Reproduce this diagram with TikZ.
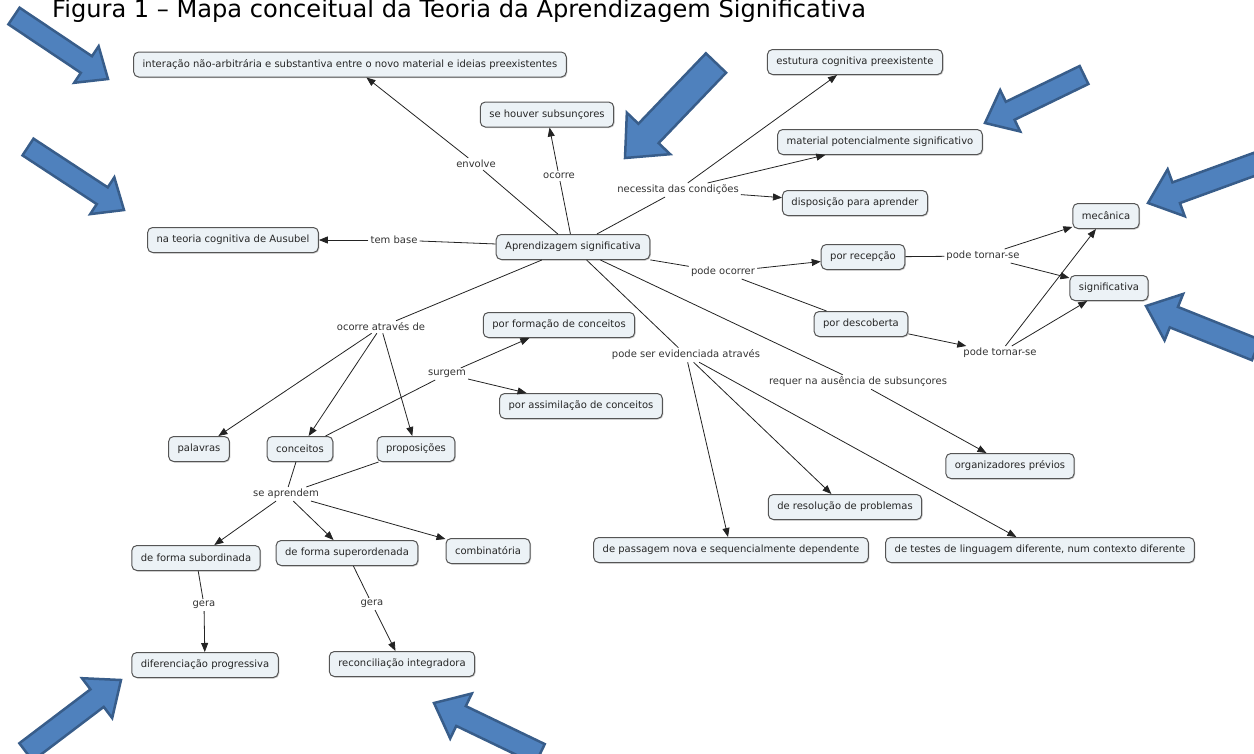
\documentclass[tikz,border=0pt]{standalone}
\usepackage{fontspec}
\setmainfont{DejaVu Sans}
\usetikzlibrary{arrows.meta,calc,shadows}

\definecolor{boxfill}{RGB}{236,242,246}
\definecolor{boxline}{RGB}{85,85,85}
\definecolor{linkgray}{RGB}{35,35,35}
\definecolor{markfill}{RGB}{79,129,189}
\definecolor{markline}{RGB}{56,93,138}

\tikzset{
  concept/.style={draw=boxline, fill=boxfill, rounded corners=5pt, line width=1pt,
    minimum height=25pt, inner xsep=9pt, inner ysep=2pt,
    drop shadow={shadow xshift=1pt, shadow yshift=-1pt, fill=black, opacity=0.2},
    font=\fontsize{10}{12}\selectfont, text=black!85},
  phrase/.style={inner sep=2pt, font=\fontsize{10}{12}\selectfont, text=black!80},
  link/.style={draw=linkgray, line width=0.8pt},
  linkto/.style={link, -{Triangle[length=9pt,width=7pt]}},
  blockarrow/.style={fill=markfill, draw=markline, line width=2.5pt, line join=miter},
}

% thick highlight arrow: tail, tip, shaft half width, head half width, head length
\newcommand\fatarrow[5]{%
  \coordinate (fa-neck) at ($(#2)!#5!(#1)$);
  \draw[blockarrow] ($(#1)!#3!90:(#2)$) -- ($(fa-neck)!#3!-90:(#1)$)
    -- ($(fa-neck)!#4!-90:(#1)$) -- (#2) -- ($(fa-neck)!#4!90:(#1)$)
    -- ($(fa-neck)!#3!90:(#1)$) -- ($(#1)!#3!-90:(#2)$) -- cycle;
}

\begin{document}
\begin{tikzpicture}[x=1pt, y=-1pt]
\useasboundingbox (0,0) rectangle (1254,753);
\clip (0,0) rectangle (1254,753);

% caption
\node[anchor=base west, inner sep=0pt, font=\fontsize{24.1}{28}\selectfont] (title) at (52,17)
  {Figura 1 – Mapa conceitual da Teoria da Aprendizagem Significativa};

% concepts
\node[concept] (as) at (573,247) {Aprendizagem significativa};
\node[concept] (inter) at (350,64.5) {interação não-arbitrária e substantiva entre o novo material e ideias preexistentes};
\node[concept] (subs) at (547,114.5) {se houver subsunçores};
\node[concept] (estrut) at (855,62) {estutura cognitiva preexistente};
\node[concept] (material) at (880,142) {material potencialmente significativo};
\node[concept] (dispos) at (855,203) {disposição para aprender};
\node[concept] (teoria) at (233,240) {na teoria cognitiva de Ausubel};
\node[concept] (recepcao) at (863,257) {por recepção};
\node[concept] (mecanica) at (1106,216) {mecânica};
\node[concept] (signif) at (1109,288) {significativa};
\node[concept] (descoberta) at (861,324) {por descoberta};
\node[concept] (formacao) at (559,325) {por formação de conceitos};
\node[concept] (assimilacao) at (581,406) {por assimilação de conceitos};
\node[concept] (palavras) at (199,449) {palavras};
\node[concept] (conceitos) at (300,449) {conceitos};
\node[concept] (proposicoes) at (416,449) {proposições};
\node[concept] (subord) at (196,558) {de forma subordinada};
\node[concept] (superord) at (347,553) {de forma superordenada};
\node[concept] (combin) at (488,551) {combinatória};
\node[concept] (difer) at (205,665) {diferenciação progressiva};
\node[concept] (reconc) at (402,664) {reconciliação integradora};
\node[concept] (organiz) at (1010,466) {organizadores prévios};
\node[concept] (resolucao) at (845,507) {de resolução de problemas};
\node[concept] (passagem) at (731,550) {de passagem nova e sequencialmente dependente};
\node[concept] (testes) at (1040,550) {de testes de linguagem diferente, num contexto diferente};

% linking phrases
\node[phrase] (envolve) at (476,164) {envolve};
\node[phrase] (ocorre) at (559,176) {ocorre};
\node[phrase] (necessita) at (678,190) {necessita das condições};
\node[phrase] (tembase) at (394,240) {tem base};
\node[phrase] (podeocorrer) at (723,272) {pode ocorrer};
\node[phrase] (tornarA) at (983,256) {pode tornar-se};
\node[phrase] (tornarB) at (1000,353) {pode tornar-se};
\node[phrase] (atraves) at (381,327) {ocorre através de};
\node[phrase] (surgem) at (447,374) {surgem};
\node[phrase] (evidenciada) at (686,355) {pode ser evidenciada através};
\node[phrase] (requer) at (858,382) {requer na ausência de subsunçores};
\node[phrase] (aprendem) at (286,494) {se aprendem};
\node[phrase] (geraA) at (204,605) {gera};
\node[phrase] (geraB) at (372,604) {gera};

% connections
\draw[link] (as) -- (envolve);
\draw[linkto] (envolve) -- (inter);
\draw[link] (as) -- (ocorre);
\draw[linkto] (ocorre) -- (subs);
\draw[link] (as) -- (necessita);
\draw[linkto] (necessita) -- (estrut);
\draw[linkto] (necessita) -- (material);
\draw[linkto] (necessita) -- (dispos);
\draw[link] (as) -- (tembase);
\draw[linkto] (tembase) -- (teoria);
\draw[link] (as) -- (podeocorrer);
\draw[linkto] (podeocorrer) -- (recepcao);
\draw[link] (podeocorrer) -- (descoberta);
\draw[link] (recepcao) -- (tornarA);
\draw[linkto] (tornarA) -- (mecanica);
\draw[linkto] (tornarA) -- (signif);
\draw[linkto] (descoberta) -- (tornarB);
\draw[linkto] (tornarB) -- (mecanica);
\draw[linkto] (tornarB) -- (signif);
\draw[link] (as) -- (atraves);
\draw[linkto] (atraves) -- (palavras);
\draw[linkto] (atraves) -- (conceitos);
\draw[linkto] (atraves) -- (proposicoes);
\draw[link] (conceitos) -- (surgem);
\draw[linkto] (surgem) -- (formacao);
\draw[linkto] (surgem) -- (assimilacao);
\draw[link] (as) -- (evidenciada);
\draw[linkto] (evidenciada) -- (passagem);
\draw[linkto] (evidenciada) -- (resolucao);
\draw[linkto] (evidenciada) -- (testes);
\draw[link] (as) -- (requer);
\draw[linkto] (requer) -- (organiz);
\draw[link] (conceitos) -- (aprendem);
\draw[link] (proposicoes) -- (aprendem);
\draw[linkto] (aprendem) -- (subord);
\draw[linkto] (aprendem) -- (superord);
\draw[linkto] (aprendem) -- (combin);
\draw[link] (subord) -- (geraA);
\draw[linkto] (geraA) -- (difer);
\draw[link] (superord) -- (geraB);
\draw[linkto] (geraB) -- (reconc);

% highlight arrows
\coordinate (hA1) at (14,16);    \coordinate (hA2) at (108,79);
\coordinate (hB1) at (28,147);   \coordinate (hB2) at (124,210);
\coordinate (hC1) at (716,63);   \coordinate (hC2) at (625,158);
\coordinate (hD1) at (1084,75);  \coordinate (hD2) at (985,123);
\coordinate (hE1) at (1258,163); \coordinate (hE2) at (1148,203);
\coordinate (hF1) at (1256,350); \coordinate (hF2) at (1146,306);
\coordinate (hG1) at (26,752);   \coordinate (hG2) at (121,680);
\coordinate (hH1) at (540,754);  \coordinate (hH2) at (434,703);
\fatarrow{hA1}{hA2}{10pt}{22pt}{26pt}
\fatarrow{hB1}{hB2}{10pt}{22pt}{26pt}
\fatarrow{hC1}{hC2}{14pt}{30pt}{34pt}
\fatarrow{hD1}{hD2}{10pt}{23pt}{28pt}
\fatarrow{hE1}{hE2}{11pt}{25pt}{30pt}
\fatarrow{hF1}{hF2}{11pt}{25pt}{30pt}
\fatarrow{hG1}{hG2}{11pt}{25pt}{30pt}
\fatarrow{hH1}{hH2}{11pt}{25pt}{30pt}
\end{tikzpicture}
\end{document}
